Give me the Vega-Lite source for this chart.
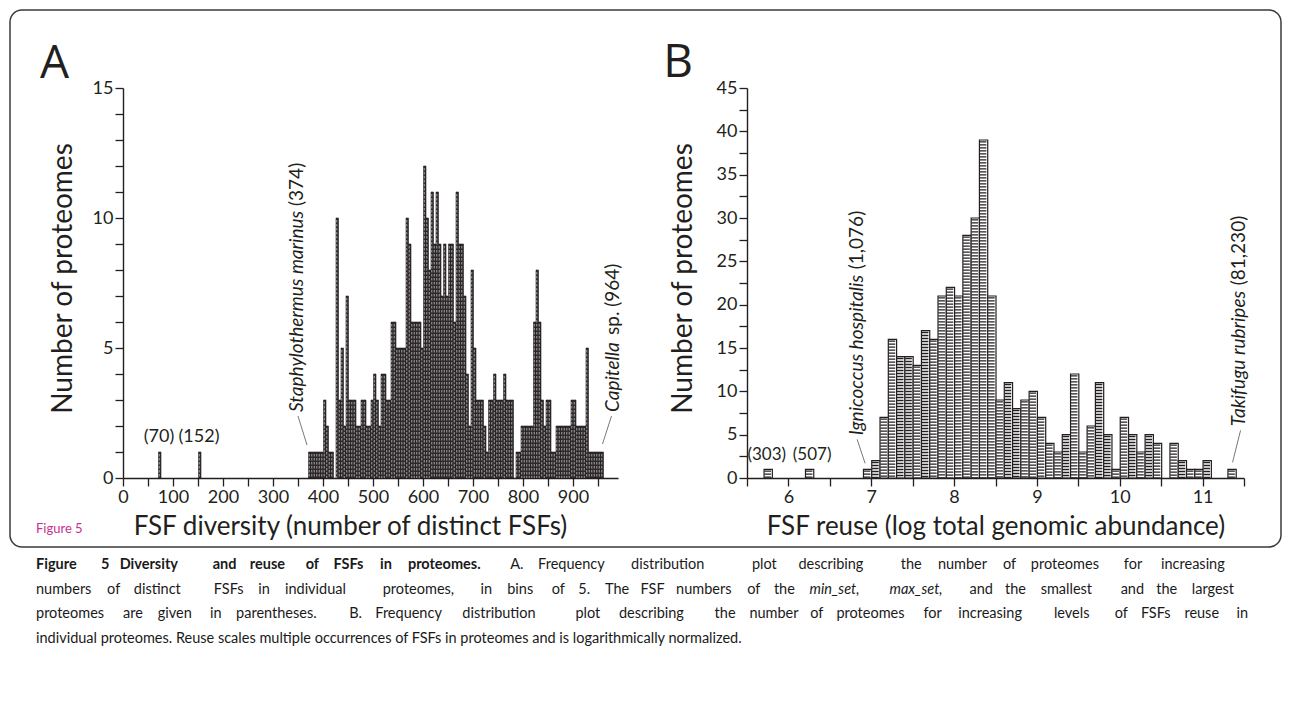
{
  "$schema": "https://vega.github.io/schema/vega-lite/v6.json",
  "width": 1271,
  "height": 537,
  "autosize": {"type": "none"},
  "padding": {"left": 10, "top": 10, "right": 9, "bottom": 163},
  "background": "white",
  "config": {
    "view": {"stroke": "#3a3a3a", "strokeWidth": 1.5, "cornerRadius": 12},
    "axis": {"domainColor": "#231f20", "domainWidth": 1.4, "tickColor": "#231f20", "tickWidth": 1.3, "tickSize": 8, "labelColor": "#231f20", "labelFont": "Lato", "labelFontSize": 18, "labelPadding": 2, "titleFont": "Lato", "titleFontSize": 26, "titleFontWeight": "normal", "titleColor": "#231f20", "grid": false, "labelOverlap": false, "labelFlush": false},
    "text": {"font": "Lato", "color": "#231f20"}
  },
  "datasets": {
    "fsfA": [
      {"fsf": 70, "n": 1}, {"fsf": 150, "n": 1},
      {"fsf": 370, "n": 1}, {"fsf": 375, "n": 1}, {"fsf": 380, "n": 1}, {"fsf": 385, "n": 1}, {"fsf": 390, "n": 1}, {"fsf": 395, "n": 1},
      {"fsf": 400, "n": 3}, {"fsf": 405, "n": 2}, {"fsf": 410, "n": 1}, {"fsf": 415, "n": 1}, {"fsf": 425, "n": 10}, {"fsf": 430, "n": 3},
      {"fsf": 435, "n": 5}, {"fsf": 440, "n": 2}, {"fsf": 445, "n": 7}, {"fsf": 450, "n": 3}, {"fsf": 455, "n": 3}, {"fsf": 460, "n": 3},
      {"fsf": 465, "n": 2}, {"fsf": 470, "n": 2}, {"fsf": 475, "n": 3}, {"fsf": 480, "n": 3}, {"fsf": 485, "n": 2}, {"fsf": 490, "n": 2},
      {"fsf": 495, "n": 3}, {"fsf": 500, "n": 4}, {"fsf": 505, "n": 3}, {"fsf": 510, "n": 2}, {"fsf": 515, "n": 4}, {"fsf": 520, "n": 4},
      {"fsf": 525, "n": 3}, {"fsf": 530, "n": 3}, {"fsf": 535, "n": 6}, {"fsf": 540, "n": 6}, {"fsf": 545, "n": 5}, {"fsf": 550, "n": 5},
      {"fsf": 555, "n": 5}, {"fsf": 560, "n": 5}, {"fsf": 565, "n": 10}, {"fsf": 570, "n": 9}, {"fsf": 575, "n": 6}, {"fsf": 580, "n": 6},
      {"fsf": 585, "n": 6}, {"fsf": 590, "n": 6}, {"fsf": 595, "n": 5}, {"fsf": 600, "n": 12}, {"fsf": 605, "n": 10}, {"fsf": 610, "n": 8},
      {"fsf": 615, "n": 11}, {"fsf": 620, "n": 9}, {"fsf": 625, "n": 11}, {"fsf": 630, "n": 9}, {"fsf": 635, "n": 7}, {"fsf": 640, "n": 9},
      {"fsf": 645, "n": 7}, {"fsf": 650, "n": 9}, {"fsf": 655, "n": 9}, {"fsf": 660, "n": 6}, {"fsf": 665, "n": 11}, {"fsf": 670, "n": 9},
      {"fsf": 675, "n": 9}, {"fsf": 680, "n": 7}, {"fsf": 685, "n": 4}, {"fsf": 690, "n": 2}, {"fsf": 695, "n": 8}, {"fsf": 700, "n": 5},
      {"fsf": 705, "n": 3}, {"fsf": 710, "n": 3}, {"fsf": 715, "n": 3}, {"fsf": 720, "n": 2}, {"fsf": 725, "n": 1}, {"fsf": 730, "n": 3},
      {"fsf": 735, "n": 3}, {"fsf": 740, "n": 4}, {"fsf": 745, "n": 3}, {"fsf": 750, "n": 3}, {"fsf": 755, "n": 3}, {"fsf": 760, "n": 4},
      {"fsf": 765, "n": 3}, {"fsf": 770, "n": 3}, {"fsf": 775, "n": 3}, {"fsf": 785, "n": 1}, {"fsf": 790, "n": 1}, {"fsf": 795, "n": 2},
      {"fsf": 800, "n": 2}, {"fsf": 805, "n": 2}, {"fsf": 810, "n": 2}, {"fsf": 815, "n": 2}, {"fsf": 820, "n": 6}, {"fsf": 825, "n": 8},
      {"fsf": 830, "n": 6}, {"fsf": 835, "n": 3}, {"fsf": 840, "n": 2}, {"fsf": 845, "n": 3}, {"fsf": 850, "n": 3}, {"fsf": 855, "n": 1},
      {"fsf": 860, "n": 1}, {"fsf": 865, "n": 2}, {"fsf": 870, "n": 2}, {"fsf": 875, "n": 2}, {"fsf": 880, "n": 2}, {"fsf": 885, "n": 2},
      {"fsf": 890, "n": 2}, {"fsf": 895, "n": 3}, {"fsf": 900, "n": 3}, {"fsf": 905, "n": 2}, {"fsf": 910, "n": 2}, {"fsf": 915, "n": 2},
      {"fsf": 920, "n": 2}, {"fsf": 925, "n": 5}, {"fsf": 930, "n": 1}, {"fsf": 935, "n": 1}, {"fsf": 940, "n": 1}, {"fsf": 945, "n": 1},
      {"fsf": 950, "n": 1}, {"fsf": 955, "n": 1}
    ],
    "fsfB": [
      {"reuse": 5.7, "n": 1}, {"reuse": 6.2, "n": 1}, {"reuse": 6.9, "n": 1}, {"reuse": 7.0, "n": 2}, {"reuse": 7.1, "n": 7},
      {"reuse": 7.2, "n": 16}, {"reuse": 7.3, "n": 14}, {"reuse": 7.4, "n": 14}, {"reuse": 7.5, "n": 13}, {"reuse": 7.6, "n": 17},
      {"reuse": 7.7, "n": 16}, {"reuse": 7.8, "n": 21}, {"reuse": 7.9, "n": 22}, {"reuse": 8.0, "n": 21}, {"reuse": 8.1, "n": 28},
      {"reuse": 8.2, "n": 30}, {"reuse": 8.3, "n": 39}, {"reuse": 8.4, "n": 21}, {"reuse": 8.5, "n": 9}, {"reuse": 8.6, "n": 11},
      {"reuse": 8.7, "n": 8}, {"reuse": 8.8, "n": 9}, {"reuse": 8.9, "n": 10}, {"reuse": 9.0, "n": 7}, {"reuse": 9.1, "n": 4},
      {"reuse": 9.2, "n": 3}, {"reuse": 9.3, "n": 5}, {"reuse": 9.4, "n": 12}, {"reuse": 9.5, "n": 3}, {"reuse": 9.6, "n": 6},
      {"reuse": 9.7, "n": 11}, {"reuse": 9.8, "n": 5}, {"reuse": 9.9, "n": 1}, {"reuse": 10.0, "n": 7}, {"reuse": 10.1, "n": 5},
      {"reuse": 10.2, "n": 3}, {"reuse": 10.3, "n": 5}, {"reuse": 10.4, "n": 4}, {"reuse": 10.6, "n": 4}, {"reuse": 10.7, "n": 2},
      {"reuse": 10.8, "n": 1}, {"reuse": 10.9, "n": 1}, {"reuse": 11.0, "n": 2}, {"reuse": 11.3, "n": 1}
    ],
    "cap1b": [
      {"line": 1, "col": 0, "w": "Figure"}, {"line": 1, "col": 7, "w": "5"}, {"line": 1, "col": 9, "w": "Diversity"}, {"line": 1, "col": 19, "w": "and"},
      {"line": 1, "col": 23, "w": "reuse"}, {"line": 1, "col": 29, "w": "of"}, {"line": 1, "col": 32, "w": "FSFs"}, {"line": 1, "col": 37, "w": "in"},
      {"line": 1, "col": 40, "w": "proteomes."}
    ],
    "cap1": [
      {"line": 1, "col": 51, "w": "A."}, {"line": 1, "col": 54, "w": "Frequency"}, {"line": 1, "col": 64, "w": "distribution"}, {"line": 1, "col": 77, "w": "plot"},
      {"line": 1, "col": 82, "w": "describing"}, {"line": 1, "col": 93, "w": "the"}, {"line": 1, "col": 97, "w": "number"}, {"line": 1, "col": 104, "w": "of"},
      {"line": 1, "col": 107, "w": "proteomes"}, {"line": 1, "col": 117, "w": "for"}, {"line": 1, "col": 121, "w": "increasing"}
    ],
    "cap2": [
      {"line": 2, "col": 0, "w": "numbers"}, {"line": 2, "col": 8, "w": "of"}, {"line": 2, "col": 11, "w": "distinct"}, {"line": 2, "col": 20, "w": "FSFs"},
      {"line": 2, "col": 25, "w": "in"}, {"line": 2, "col": 28, "w": "individual"}, {"line": 2, "col": 39, "w": "proteomes,"}, {"line": 2, "col": 50, "w": "in"},
      {"line": 2, "col": 53, "w": "bins"}, {"line": 2, "col": 58, "w": "of"}, {"line": 2, "col": 61, "w": "5."}, {"line": 2, "col": 64, "w": "The"},
      {"line": 2, "col": 68, "w": "FSF"}, {"line": 2, "col": 72, "w": "numbers"}, {"line": 2, "col": 80, "w": "of"}, {"line": 2, "col": 83, "w": "the"},
      {"line": 2, "col": 105, "w": "and"}, {"line": 2, "col": 109, "w": "the"}, {"line": 2, "col": 113, "w": "smallest"}, {"line": 2, "col": 122, "w": "and"},
      {"line": 2, "col": 126, "w": "the"}, {"line": 2, "col": 130, "w": "largest"}
    ],
    "cap2i": [
      {"line": 2, "col": 87, "w": "min_set,"}, {"line": 2, "col": 96, "w": "max_set,"}
    ],
    "cap3": [
      {"line": 3, "col": 0, "w": "proteomes"}, {"line": 3, "col": 10, "w": "are"}, {"line": 3, "col": 14, "w": "given"}, {"line": 3, "col": 20, "w": "in"},
      {"line": 3, "col": 23, "w": "parentheses."}, {"line": 3, "col": 36, "w": "B."}, {"line": 3, "col": 39, "w": "Frequency"}, {"line": 3, "col": 49, "w": "distribution"},
      {"line": 3, "col": 62, "w": "plot"}, {"line": 3, "col": 67, "w": "describing"}, {"line": 3, "col": 78, "w": "the"}, {"line": 3, "col": 82, "w": "number"},
      {"line": 3, "col": 89, "w": "of"}, {"line": 3, "col": 92, "w": "proteomes"}, {"line": 3, "col": 102, "w": "for"}, {"line": 3, "col": 106, "w": "increasing"},
      {"line": 3, "col": 117, "w": "levels"}, {"line": 3, "col": 124, "w": "of"}, {"line": 3, "col": 127, "w": "FSFs"}, {"line": 3, "col": 132, "w": "reuse"},
      {"line": 3, "col": 138, "w": "in"}
    ],
    "cap4": [
      {"line": 4, "col": 0, "w": "individual proteomes. Reuse scales multiple occurrences of FSFs in proteomes and is logarithmically normalized."}
    ]
  },
  "resolve": {"scale": {"x": "independent", "y": "independent"}, "axis": {"x": "independent", "y": "independent"}},
  "layer": [
    {
      "data": {"name": "fsfA"},
      "mark": {"type": "bar", "fill": "#2f2a2b", "stroke": "#231f20", "strokeWidth": 0.6, "binSpacing": 0},
      "encoding": {
        "x": {"field": "fsf", "type": "quantitative", "bin": {"binned": true, "step": 5},
          "scale": {"domain": [0, 990], "range": [113, 608], "nice": false, "zero": false},
          "axis": {"orient": "bottom", "offset": -69, "values": [0, 50, 100, 150, 200, 250, 300, 350, 400, 450, 500, 550, 600, 650, 700, 750, 800, 850, 900, 950],
            "labelExpr": "datum.value % 100 === 0 ? datum.label : ''", "title": "FSF diversity (number of distinct FSFs)", "titleX": 340, "titlePadding": 7}},
        "y": {"field": "n", "type": "quantitative",
          "scale": {"domain": [0, 15], "range": [468, 78], "nice": false, "zero": false},
          "axis": {"orient": "left", "offset": -113, "values": [0, 1, 2, 3, 4, 5, 6, 7, 8, 9, 10, 11, 12, 13, 14, 15],
            "labelExpr": "datum.value % 5 === 0 ? datum.label : ''", "title": "Number of proteomes", "titleFontSize": 28, "titleX": -60, "titleY": 268, "titleBaseline": "middle"}}
      }
    },
    {
      "data": {"name": "fsfA"},
      "mark": {"type": "rule", "xOffset": 1.25, "yOffset": 2, "stroke": "#d6d2d2", "strokeWidth": 0.7, "strokeDash": [2.5, 1.5]},
      "encoding": {
        "x": {"field": "fsf", "type": "quantitative", "scale": {"domain": [0, 990], "range": [113, 608], "nice": false, "zero": false}, "axis": null},
        "y": {"field": "n", "type": "quantitative", "scale": {"domain": [0, 15], "range": [468, 78], "nice": false, "zero": false}, "axis": null},
        "y2": {"datum": 0}
      }
    },
    {
      "data": {"name": "fsfB"},
      "mark": {"type": "bar", "fill": "white", "stroke": "#231f20", "strokeWidth": 1.2, "binSpacing": 0},
      "encoding": {
        "x": {"field": "reuse", "type": "quantitative", "bin": {"binned": true, "step": 0.1},
          "scale": {"domain": [5.5, 11.5], "range": [737, 1234], "nice": false, "zero": false},
          "axis": {"orient": "bottom", "offset": -69, "values": [5.5, 6, 6.5, 7, 7.5, 8, 8.5, 9, 9.5, 10, 10.5, 11, 11.5],
            "labelExpr": "datum.value % 1 === 0 ? format(datum.value, 'd') : ''", "title": "FSF reuse (log total genomic abundance)", "titlePadding": 7}},
        "y": {"field": "n", "type": "quantitative",
          "scale": {"domain": [0, 45], "range": [468, 78], "nice": false, "zero": false},
          "axis": {"orient": "left", "offset": -737, "values": [0, 2.5, 5, 7.5, 10, 12.5, 15, 17.5, 20, 22.5, 25, 27.5, 30, 32.5, 35, 37.5, 40, 42.5, 45],
            "labelExpr": "datum.value % 5 === 0 ? datum.label : ''", "title": "Number of proteomes", "titleFontSize": 28, "titleX": -64, "titleY": 268, "titleBaseline": "middle"}}
      }
    },
    {
      "data": {"name": "fsfB"},
      "mark": {"type": "rule", "xOffset": 4.14, "yOffset": 1.2, "stroke": "#231f20", "strokeWidth": 6.6, "strokeDash": [1.3, 1.7]},
      "encoding": {
        "x": {"field": "reuse", "type": "quantitative", "scale": {"domain": [5.5, 11.5], "range": [737, 1234], "nice": false, "zero": false}, "axis": null},
        "y": {"field": "n", "type": "quantitative", "scale": {"domain": [0, 45], "range": [468, 78], "nice": false, "zero": false}, "axis": null},
        "y2": {"datum": 0}
      }
    },
    {
      "data": {"values": [{"v": 72, "n": 1, "label": "(70)"}, {"v": 152, "n": 1, "label": "(152)"}]},
      "mark": {"type": "text", "align": "center", "baseline": "bottom", "dy": -6, "fontSize": 18},
      "encoding": {
        "x": {"field": "v", "type": "quantitative", "scale": {"domain": [0, 990], "range": [113, 608], "nice": false, "zero": false}, "axis": null},
        "y": {"field": "n", "type": "quantitative", "scale": {"domain": [0, 15], "range": [468, 78], "nice": false, "zero": false}, "axis": null},
        "text": {"field": "label"}
      }
    },
    {
      "data": {"values": [{"v": 374, "n": 1, "label": "Staphylothermus marinus"}]},
      "mark": {"type": "text", "align": "left", "baseline": "middle", "angle": 270, "fontStyle": "italic", "fontSize": 19, "dx": 40, "dy": -13},
      "encoding": {
        "x": {"field": "v", "type": "quantitative", "scale": {"domain": [0, 990], "range": [113, 608], "nice": false, "zero": false}, "axis": null},
        "y": {"field": "n", "type": "quantitative", "scale": {"domain": [0, 15], "range": [468, 78], "nice": false, "zero": false}, "axis": null},
        "text": {"field": "label"}
      }
    },
    {
      "data": {"values": [{"v": 374, "n": 1, "label": "(374)"}]},
      "mark": {"type": "text", "align": "left", "baseline": "middle", "angle": 270, "fontSize": 19, "dx": 246, "dy": -13},
      "encoding": {
        "x": {"field": "v", "type": "quantitative", "scale": {"domain": [0, 990], "range": [113, 608], "nice": false, "zero": false}, "axis": null},
        "y": {"field": "n", "type": "quantitative", "scale": {"domain": [0, 15], "range": [468, 78], "nice": false, "zero": false}, "axis": null},
        "text": {"field": "label"}
      }
    },
    {
      "data": {"values": [{"v": 957, "n": 1, "label": "Capitella"}]},
      "mark": {"type": "text", "align": "left", "baseline": "middle", "angle": 270, "fontStyle": "italic", "fontSize": 19, "dx": 40, "dy": 11},
      "encoding": {
        "x": {"field": "v", "type": "quantitative", "scale": {"domain": [0, 990], "range": [113, 608], "nice": false, "zero": false}, "axis": null},
        "y": {"field": "n", "type": "quantitative", "scale": {"domain": [0, 15], "range": [468, 78], "nice": false, "zero": false}, "axis": null},
        "text": {"field": "label"}
      }
    },
    {
      "data": {"values": [{"v": 957, "n": 1, "label": "sp. (964)"}]},
      "mark": {"type": "text", "align": "left", "baseline": "middle", "angle": 270, "fontSize": 19, "dx": 117, "dy": 11},
      "encoding": {
        "x": {"field": "v", "type": "quantitative", "scale": {"domain": [0, 990], "range": [113, 608], "nice": false, "zero": false}, "axis": null},
        "y": {"field": "n", "type": "quantitative", "scale": {"domain": [0, 15], "range": [468, 78], "nice": false, "zero": false}, "axis": null},
        "text": {"field": "label"}
      }
    },
    {
      "data": {"values": [{"v": 374, "n": 1}]},
      "mark": {"type": "rule", "stroke": "#555555", "strokeWidth": 0.8, "xOffset": -12, "yOffset": -36, "x2Offset": -3, "y2Offset": -7},
      "encoding": {
        "x": {"field": "v", "type": "quantitative", "scale": {"domain": [0, 990], "range": [113, 608], "nice": false, "zero": false}, "axis": null},
        "x2": {"field": "v"},
        "y": {"field": "n", "type": "quantitative", "scale": {"domain": [0, 15], "range": [468, 78], "nice": false, "zero": false}, "axis": null},
        "y2": {"field": "n"}
      }
    },
    {
      "data": {"values": [{"v": 957, "n": 1}]},
      "mark": {"type": "rule", "stroke": "#555555", "strokeWidth": 0.8, "xOffset": 10, "yOffset": -36, "x2Offset": 1, "y2Offset": -8},
      "encoding": {
        "x": {"field": "v", "type": "quantitative", "scale": {"domain": [0, 990], "range": [113, 608], "nice": false, "zero": false}, "axis": null},
        "x2": {"field": "v"},
        "y": {"field": "n", "type": "quantitative", "scale": {"domain": [0, 15], "range": [468, 78], "nice": false, "zero": false}, "axis": null},
        "y2": {"field": "n"}
      }
    },
    {
      "data": {"values": [{"v": 5.75, "n": 1, "label": "(303)"}]},
      "mark": {"type": "text", "align": "center", "baseline": "bottom", "dy": -5, "dx": -1, "fontSize": 17},
      "encoding": {
        "x": {"field": "v", "type": "quantitative", "scale": {"domain": [5.5, 11.5], "range": [737, 1234], "nice": false, "zero": false}, "axis": null},
        "y": {"field": "n", "type": "quantitative", "scale": {"domain": [0, 45], "range": [468, 78], "nice": false, "zero": false}, "axis": null},
        "text": {"field": "label"}
      }
    },
    {
      "data": {"values": [{"v": 6.25, "n": 1, "label": "(507)"}]},
      "mark": {"type": "text", "align": "center", "baseline": "bottom", "dy": -5, "dx": 3, "fontSize": 17},
      "encoding": {
        "x": {"field": "v", "type": "quantitative", "scale": {"domain": [5.5, 11.5], "range": [737, 1234], "nice": false, "zero": false}, "axis": null},
        "y": {"field": "n", "type": "quantitative", "scale": {"domain": [0, 45], "range": [468, 78], "nice": false, "zero": false}, "axis": null},
        "text": {"field": "label"}
      }
    },
    {
      "data": {"values": [{"v": 6.95, "n": 1, "label": "Ignicoccus hospitalis"}]},
      "mark": {"type": "text", "align": "left", "baseline": "middle", "angle": 270, "fontStyle": "italic", "fontSize": 19, "dx": 34, "dy": -10},
      "encoding": {
        "x": {"field": "v", "type": "quantitative", "scale": {"domain": [5.5, 11.5], "range": [737, 1234], "nice": false, "zero": false}, "axis": null},
        "y": {"field": "n", "type": "quantitative", "scale": {"domain": [0, 45], "range": [468, 78], "nice": false, "zero": false}, "axis": null},
        "text": {"field": "label"}
      }
    },
    {
      "data": {"values": [{"v": 6.95, "n": 1, "label": "(1,076)"}]},
      "mark": {"type": "text", "align": "left", "baseline": "middle", "angle": 270, "fontSize": 19, "dx": 200, "dy": -10},
      "encoding": {
        "x": {"field": "v", "type": "quantitative", "scale": {"domain": [5.5, 11.5], "range": [737, 1234], "nice": false, "zero": false}, "axis": null},
        "y": {"field": "n", "type": "quantitative", "scale": {"domain": [0, 45], "range": [468, 78], "nice": false, "zero": false}, "axis": null},
        "text": {"field": "label"}
      }
    },
    {
      "data": {"values": [{"v": 11.35, "n": 1, "label": "Takifugu rubripes"}]},
      "mark": {"type": "text", "align": "left", "baseline": "middle", "angle": 270, "fontStyle": "italic", "fontSize": 19, "dx": 43, "dy": 7},
      "encoding": {
        "x": {"field": "v", "type": "quantitative", "scale": {"domain": [5.5, 11.5], "range": [737, 1234], "nice": false, "zero": false}, "axis": null},
        "y": {"field": "n", "type": "quantitative", "scale": {"domain": [0, 45], "range": [468, 78], "nice": false, "zero": false}, "axis": null},
        "text": {"field": "label"}
      }
    },
    {
      "data": {"values": [{"v": 11.35, "n": 1, "label": "(81,230)"}]},
      "mark": {"type": "text", "align": "left", "baseline": "middle", "angle": 270, "fontSize": 19, "dx": 184, "dy": 7},
      "encoding": {
        "x": {"field": "v", "type": "quantitative", "scale": {"domain": [5.5, 11.5], "range": [737, 1234], "nice": false, "zero": false}, "axis": null},
        "y": {"field": "n", "type": "quantitative", "scale": {"domain": [0, 45], "range": [468, 78], "nice": false, "zero": false}, "axis": null},
        "text": {"field": "label"}
      }
    },
    {
      "data": {"values": [{"v": 6.95, "n": 1}]},
      "mark": {"type": "rule", "stroke": "#555555", "strokeWidth": 0.8, "xOffset": -10, "yOffset": -30, "x2Offset": -2, "y2Offset": -6},
      "encoding": {
        "x": {"field": "v", "type": "quantitative", "scale": {"domain": [5.5, 11.5], "range": [737, 1234], "nice": false, "zero": false}, "axis": null},
        "x2": {"field": "v"},
        "y": {"field": "n", "type": "quantitative", "scale": {"domain": [0, 45], "range": [468, 78], "nice": false, "zero": false}, "axis": null},
        "y2": {"field": "n"}
      }
    },
    {
      "data": {"values": [{"v": 11.35, "n": 1}]},
      "mark": {"type": "rule", "stroke": "#555555", "strokeWidth": 0.8, "xOffset": 9, "yOffset": -39, "x2Offset": 1, "y2Offset": -7},
      "encoding": {
        "x": {"field": "v", "type": "quantitative", "scale": {"domain": [5.5, 11.5], "range": [737, 1234], "nice": false, "zero": false}, "axis": null},
        "x2": {"field": "v"},
        "y": {"field": "n", "type": "quantitative", "scale": {"domain": [0, 45], "range": [468, 78], "nice": false, "zero": false}, "axis": null},
        "y2": {"field": "n"}
      }
    },
    {
      "data": {"values": [{"px": -166, "py": 15.4, "label": "A"}]},
      "mark": {"type": "text", "align": "left", "baseline": "alphabetic", "fontSize": 46, "font": "Open Sans"},
      "encoding": {
        "x": {"field": "px", "type": "quantitative", "scale": {"domain": [0, 990], "range": [113, 608], "nice": false, "zero": false}, "axis": null},
        "y": {"field": "py", "type": "quantitative", "scale": {"domain": [0, 15], "range": [468, 78], "nice": false, "zero": false}, "axis": null},
        "text": {"field": "label"}
      }
    },
    {
      "data": {"values": [{"px": 4.49, "py": 46.3, "label": "B"}]},
      "mark": {"type": "text", "align": "left", "baseline": "alphabetic", "fontSize": 46, "font": "Open Sans"},
      "encoding": {
        "x": {"field": "px", "type": "quantitative", "scale": {"domain": [5.5, 11.5], "range": [737, 1234], "nice": false, "zero": false}, "axis": null},
        "y": {"field": "py", "type": "quantitative", "scale": {"domain": [0, 45], "range": [468, 78], "nice": false, "zero": false}, "axis": null},
        "text": {"field": "label"}
      }
    },
    {
      "data": {"values": [{"line": -0.46, "col": 0, "w": "Figure 5"}]},
      "mark": {"type": "text", "align": "left", "baseline": "middle", "fontSize": 13, "color": "#c4338f"},
      "encoding": {
        "x": {"field": "col", "type": "quantitative", "scale": {"domain": [0, 131], "range": [26, 1244], "nice": false, "zero": false}, "axis": null},
        "y": {"field": "line", "type": "quantitative", "scale": {"domain": [1, 4], "range": [555, 629], "nice": false, "zero": false}, "axis": null},
        "text": {"field": "w"}
      }
    },
    {
      "data": {"name": "cap1b"},
      "mark": {"type": "text", "align": "left", "baseline": "middle", "fontSize": 14.5, "fontWeight": "bold", "color": "#1a1a1a"},
      "encoding": {
        "x": {"field": "col", "type": "quantitative", "scale": {"domain": [0, 131], "range": [26, 1244], "nice": false, "zero": false}, "axis": null},
        "y": {"field": "line", "type": "quantitative", "scale": {"domain": [1, 4], "range": [555, 629], "nice": false, "zero": false}, "axis": null},
        "text": {"field": "w"}
      }
    },
    {
      "data": {"name": "cap1"},
      "mark": {"type": "text", "align": "left", "baseline": "middle", "fontSize": 14.5, "color": "#1a1a1a"},
      "encoding": {
        "x": {"field": "col", "type": "quantitative", "scale": {"domain": [0, 131], "range": [26, 1244], "nice": false, "zero": false}, "axis": null},
        "y": {"field": "line", "type": "quantitative", "scale": {"domain": [1, 4], "range": [555, 629], "nice": false, "zero": false}, "axis": null},
        "text": {"field": "w"}
      }
    },
    {
      "data": {"name": "cap2"},
      "mark": {"type": "text", "align": "left", "baseline": "middle", "fontSize": 14.5, "color": "#1a1a1a"},
      "encoding": {
        "x": {"field": "col", "type": "quantitative", "scale": {"domain": [0, 137], "range": [26, 1244], "nice": false, "zero": false}, "axis": null},
        "y": {"field": "line", "type": "quantitative", "scale": {"domain": [1, 4], "range": [555, 629], "nice": false, "zero": false}, "axis": null},
        "text": {"field": "w"}
      }
    },
    {
      "data": {"name": "cap2i"},
      "mark": {"type": "text", "align": "left", "baseline": "middle", "fontSize": 14.5, "fontStyle": "italic", "color": "#1a1a1a"},
      "encoding": {
        "x": {"field": "col", "type": "quantitative", "scale": {"domain": [0, 137], "range": [26, 1244], "nice": false, "zero": false}, "axis": null},
        "y": {"field": "line", "type": "quantitative", "scale": {"domain": [1, 4], "range": [555, 629], "nice": false, "zero": false}, "axis": null},
        "text": {"field": "w"}
      }
    },
    {
      "data": {"name": "cap3"},
      "mark": {"type": "text", "align": "left", "baseline": "middle", "fontSize": 14.5, "color": "#1a1a1a"},
      "encoding": {
        "x": {"field": "col", "type": "quantitative", "scale": {"domain": [0, 140], "range": [26, 1244], "nice": false, "zero": false}, "axis": null},
        "y": {"field": "line", "type": "quantitative", "scale": {"domain": [1, 4], "range": [555, 629], "nice": false, "zero": false}, "axis": null},
        "text": {"field": "w"}
      }
    },
    {
      "data": {"name": "cap4"},
      "mark": {"type": "text", "align": "left", "baseline": "middle", "fontSize": 14.5, "color": "#1a1a1a"},
      "encoding": {
        "x": {"field": "col", "type": "quantitative", "scale": {"domain": [0, 140], "range": [26, 1244], "nice": false, "zero": false}, "axis": null},
        "y": {"field": "line", "type": "quantitative", "scale": {"domain": [1, 4], "range": [555, 629], "nice": false, "zero": false}, "axis": null},
        "text": {"field": "w"}
      }
    }
  ]
}
